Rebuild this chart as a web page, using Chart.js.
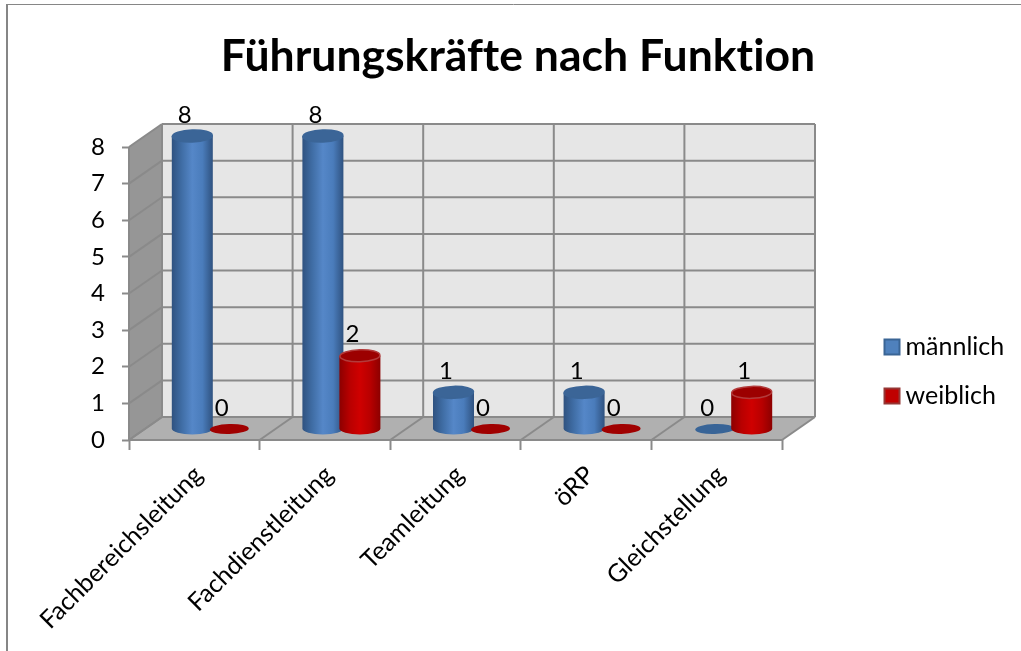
<!DOCTYPE html>
<html>
<head>
<meta charset="utf-8">
<style>html,body{margin:0;padding:0;background:#fff}canvas{display:block}</style>
<script src="https://cdn.jsdelivr.net/npm/chart.js@4/dist/chart.umd.js"></script>
</head>
<body>
<canvas id="c" width="1021" height="651"></canvas>
<script>
const titleText = 'Führungskräfte nach Funktion';
const categories = ['Fachbereichsleitung', 'Fachdienstleitung', 'Teamleitung', 'öRP', 'Gleichstellung'];
const maennlich = [8, 8, 1, 1, 0];
const weiblich = [0, 2, 0, 0, 1];

const FONT = 'Lato, Carlito, sans-serif';
const BLUE = '#4f81bd', RED = '#c00000';
const DX = 33, DY = -23;                 // depth of the 3D box
const CX = 16.5, CY = -11, RX = 20.5, RY = 6;  // cylinder placement in the box
const LINE = '#8a8a8a';

const skins = {
  [BLUE]: {stops: ['#2f5280', '#406ea6', '#5587c8', '#4a7cbb', '#2f5280'], top: '#3b6597', rim: '#3b6597', flat: '#386497'},
  [RED]:  {stops: ['#8c0000', '#b80000', '#cf0000', '#b80000', '#8c0000'], top: '#9c0000', rim: '#b23b3b', flat: '#a00000'}
};

Chart.BarElement.prototype.draw = function (ctx) {
  const s = skins[this.options.backgroundColor] || skins[BLUE];
  const cx = this.x + CX, yb = this.base + CY, yt = this.y + CY;
  ctx.save();
  if (Math.abs(yb - yt) < 0.5) {
    ctx.fillStyle = s.flat;
    ctx.beginPath(); ctx.ellipse(cx, yb, RX - 1, RY - 1, -0.03, 0, Math.PI * 2); ctx.fill();
  } else {
    const g = ctx.createLinearGradient(cx - RX, 0, cx + RX, 0);
    s.stops.forEach((c, i) => g.addColorStop(i / (s.stops.length - 1), c));
    ctx.fillStyle = g;
    ctx.beginPath();
    ctx.moveTo(cx - RX, yt);
    ctx.lineTo(cx - RX, yb);
    ctx.ellipse(cx, yb, RX, RY, 0, Math.PI, 0, true);
    ctx.lineTo(cx + RX, yt);
    ctx.closePath();
    ctx.fill();
    ctx.fillStyle = s.top;
    ctx.strokeStyle = s.rim;
    ctx.lineWidth = 1.5;
    ctx.beginPath(); ctx.ellipse(cx, yt, RX - 0.5, RY, -0.03, 0, Math.PI * 2); ctx.fill(); ctx.stroke();
  }
  ctx.restore();
};

const box3d = {
  id: 'box3d',
  beforeLayout(chart) {
    chart.ctx.letterSpacing = '0.01px';
    const lg = chart.legend;
    if (lg && !lg._patched) {
      const fit = lg.fit;
      lg.fit = function () { fit.call(this); this.width = 239; };
      lg._patched = true;
    }
  },
  afterLayout(chart) {
    const lg = chart.legend;
    const w = lg.width;
    lg.left = 867; lg.right = lg.left + w;
    lg.top += 46; lg.bottom += 46;
    chart.titleBlock.left += 7.5; chart.titleBlock.right += 7.5;
  },
  beforeDraw(chart) {
    const c = chart.ctx;
    c.letterSpacing = '0.01px';
    c.save();
    c.strokeStyle = '#868686';
    c.lineWidth = 1;
    c.beginPath(); c.moveTo(1021, 4.5); c.lineTo(6, 4.5); c.stroke();
    c.lineWidth = 2;
    c.beginPath(); c.moveTo(7, 4); c.lineTo(7, 651); c.stroke();
    c.restore();
  },
  beforeDatasetsDraw(chart) {
    const c = chart.ctx, a = chart.chartArea, ys = chart.scales.y;
    const L = a.left, R = a.right, T = a.top, B = a.bottom;
    const poly = (pts, fill) => {
      c.beginPath(); pts.forEach((p, i) => i ? c.lineTo(p[0], p[1]) : c.moveTo(p[0], p[1])); c.closePath();
      c.fillStyle = fill; c.fill();
    };
    const seg = (x1, y1, x2, y2) => { c.beginPath(); c.moveTo(x1, y1); c.lineTo(x2, y2); c.stroke(); };
    c.save();
    poly([[L + DX, T + DY], [R + DX, T + DY], [R + DX, B + DY], [L + DX, B + DY]], '#e6e6e6');
    poly([[L, T], [L + DX, T + DY], [L + DX, B + DY], [L, B]], '#969696');
    poly([[L, B], [L + DX, B + DY], [R + DX, B + DY], [R, B]], '#b0b0b0');
    c.strokeStyle = LINE; c.lineWidth = 2;
    ys.ticks.forEach(t => {
      const y = ys.getPixelForValue(t.value);
      seg(L, y, L + DX, y + DY);
      seg(L + DX, y + DY, R + DX, y + DY);
    });
    const n = categories.length, band = (R - L) / n;
    for (let i = 0; i <= n; i++) {
      const x = L + band * i;
      seg(x + DX, T + DY, x + DX, B + DY);
      seg(x, B, x + DX, B + DY);
    }
    seg(L, T, L, B);
    seg(L, B, R, B);
    c.restore();
  },
  // Chart.js paints datasets last-to-first; the reference has the red series in front.
  beforeDatasetDraw() { return false; },
  afterDatasetsDraw(chart) {
    chart.data.datasets.forEach((ds, di) => chart.getDatasetMeta(di).controller.draw());
    const c = chart.ctx;
    c.save();
    c.fillStyle = '#000';
    c.font = '24px ' + FONT;
    c.textAlign = 'center';
    c.textBaseline = 'middle';
    chart.data.datasets.forEach((ds, di) => {
      chart.getDatasetMeta(di).data.forEach((el, i) => {
        c.fillText(String(ds.data[i]), el.x + 9, el.y - 32);
      });
    });
    c.restore();
  }
};

new Chart(document.getElementById('c'), {
  type: 'bar',
  data: {
    labels: categories,
    datasets: [
      {label: 'männlich', data: maennlich, backgroundColor: BLUE, borderColor: '#3a6595', borderWidth: 2},
      {label: 'weiblich', data: weiblich, backgroundColor: RED, borderColor: '#953735', borderWidth: 2}
    ]
  },
  plugins: [box3d],
  options: {
    responsive: false,
    animation: false,
    events: [],
    barPercentage: 1,
    categoryPercentage: 0.5666,
    layout: {padding: 0},
    plugins: {
      tooltip: {enabled: false},
      title: {
        display: true, text: titleText, color: '#000',
        font: {family: FONT, size: 44.5, weight: 'bold', lineHeight: 1.2},
        padding: {top: 30, bottom: 63.6}
      },
      legend: {
        position: 'right',
        labels: {
          color: '#000', font: {family: FONT, size: 25},
          usePointStyle: true, pointStyle: 'rect', boxWidth: 2, boxHeight: 15, padding: 24
        }
      }
    },
    scales: {
      x: {
        afterFit(s) { s.height = 211; },
        grid: {drawOnChartArea: false, drawTicks: true, tickLength: 10, tickColor: LINE, tickWidth: 2, offset: true},
        border: {display: false},
        ticks: {color: '#000', font: {family: FONT, size: 25}, minRotation: 45, maxRotation: 45, padding: 10, labelOffset: 4}
      },
      y: {
        min: 0, max: 8,
        afterFit(s) { s.width = 129; },
        grid: {drawOnChartArea: false, drawTicks: true, tickLength: 7, tickColor: LINE, tickWidth: 2},
        border: {display: false},
        ticks: {color: '#000', font: {family: FONT, size: 24}, stepSize: 1, padding: 17}
      }
    }
  }
});
</script>
</body>
</html>
